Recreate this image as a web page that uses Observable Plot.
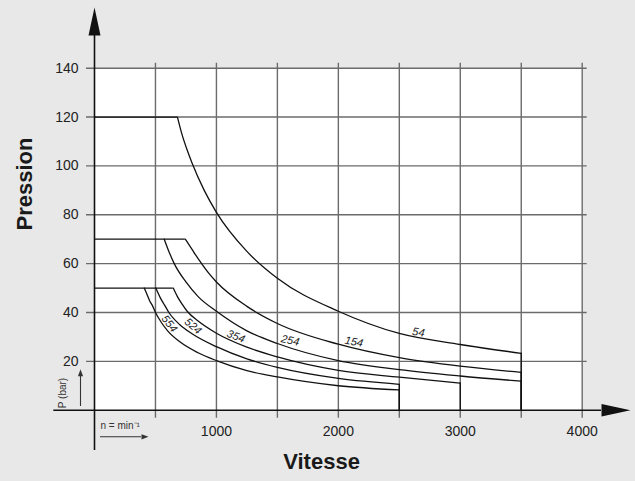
<!DOCTYPE html>
<html><head><meta charset="utf-8">
<script src="https://cdn.jsdelivr.net/npm/d3@7"></script>
<script src="https://cdn.jsdelivr.net/npm/@observablehq/plot@0.6"></script>
<style>html,body{margin:0;padding:0;background:#e8e8e8;} #chart svg{display:block;}</style>
</head><body><div id="chart"></div>
<script>
// ---- data ----
const seriesNames = ["54", "154", "254", "354", "524", "554"];
const curve54  = [[680,120],[720,112.5],[760,106.5],[800,101.2],[900,90],[1000,81],[1250,65],[1500,54],[2000,40.5],[2500,31.4],[3000,26.9],[3500,23.3]];
const curve154 = [[745,70],[800,65.8],[860,61.3],[930,56.5],[1000,52.5],[1250,42.5],[1500,35.5],[2000,27],[2500,21.5],[3000,18],[3500,15.5]];
const curve254 = [[572,70],[610,65],[654,60],[750,52.5],[850,46.5],[1000,40.5],[1250,32.5],[1500,27.3],[2000,20.3],[2500,16.6],[3000,14],[3500,11.9]];
const curve354 = [[646,50],[680,46.5],[720,43.3],[760,40.5],[850,36.5],[1000,31.5],[1250,25.8],[1500,21.8],[2000,16.3],[2500,13.5],[3000,11.1]];
const curve524 = [[503,50],[540,46],[575,43],[610,40],[700,35],[800,31.3],[1000,26],[1250,21],[1500,17.5],[2000,13],[2500,10.6]];
const curve554 = [[408,50],[430,47.5],[455,44.5],[473,43],[500,40],[550,35.8],[600,32.5],[700,28],[850,23.5],[1000,20.3],[1250,16.2],[1500,13.6],[2000,10],[2500,8.3]];
const plateauLevels = [120, 70, 50];
const plateauEnds = [680, 745, 646];
const labelN = [2657, 2127, 1605, 1160, 808, 615];
const labelP = [31.9, 28.0, 28.6, 30.2, 34.4, 35.4];
const labelAngle = [9, 11, 12, 22, 42, 52];
const yTicks = [20, 40, 60, 80, 100, 120, 140];
const xTicks = [1000, 2000, 3000, 4000];
const xGrid = [500, 1000, 1500, 2000, 2500, 3000, 3500, 4000];
const xMax = 4000, yMax = 140;

// ---- layout ----
const W = 635, H = 481, ML = 94, MR = 53.3, MT = 67.7, MB = 71.3;
const pxX = (W - ML - MR) / xMax, pxY = (H - MT - MB) / yMax;
const dX = px => px / pxX, dY = px => px / pxY;

const curveData = [curve54, curve154, curve254, curve354, curve524, curve554];
const curvePts = curveData.flatMap((c, i) => c.map(([n, p]) => ({name: seriesNames[i], n, p})));
const drops = curveData.map(c => ({n: c[c.length - 1][0], p: c[c.length - 1][1]}));
const plateaus = plateauLevels.map((p, i) => ({p, end: plateauEnds[i]}));
const labels = seriesNames.map((t, i) => ({t, n: labelN[i], p: labelP[i], a: labelAngle[i]}));

const poly = pts => ({draw(ctx) {
  ctx.moveTo(pts[0][0], pts[0][1]);
  for (let k = 1; k < pts.length; k++) ctx.lineTo(pts[k][0], pts[k][1]);
  ctx.closePath();
}});
const upHead = poly([[0,-28],[6,0],[-6,0]]);
const rightHead = poly([[29,0],[0,-6.3],[0,6.3]]);
const smallUp = poly([[0,-7],[2.6,0],[-2.6,0]]);
const smallRight = poly([[7,0],[0,-2.6],[0,2.6]]);

const gridColor = "#6b6b6b";
const chart = Plot.plot({
  width: W, height: H,
  marginLeft: ML, marginRight: MR, marginTop: MT, marginBottom: MB,
  style: {background: "#e8e8e8", fontFamily: "'Liberation Sans', Arial, Helvetica, sans-serif", fontSize: "14px", overflow: "visible"},
  x: {domain: [0, xMax], axis: null},
  y: {domain: [0, yMax], axis: null},
  marks: [
    Plot.frame({fill: "white", stroke: "none"}),
    Plot.ruleX(xGrid, {y1: -dY(8), y2: yMax + dY(5), stroke: gridColor, strokeWidth: 1.4}),
    Plot.ruleY(yTicks, {x1: -dX(8), x2: xMax + dX(5), stroke: gridColor, strokeWidth: 1.4}),
    // axes
    Plot.ruleX([0], {y1: -dY(40.3), y2: yMax + dY(32.7), stroke: "#111", strokeWidth: 1.6}),
    Plot.ruleY([0], {x1: -dX(40.7), x2: xMax + dX(19.3), stroke: "#111", strokeWidth: 1.6}),
    Plot.dot([0], {x: 0, y: yMax + dY(32.7), symbol: upHead, r: 5, fill: "#111", stroke: "none"}),
    Plot.dot([0], {x: xMax + dX(19.3), y: 0, symbol: rightHead, r: 5, fill: "#111", stroke: "none"}),
    // curves
    Plot.ruleY(plateaus, {y: "p", x1: 0, x2: "end", stroke: "#111", strokeWidth: 1.3}),
    Plot.line(curvePts, {x: "n", y: "p", z: "name", curve: "monotone-x", stroke: "#111", strokeWidth: 1.3}),
    Plot.ruleX(drops, {x: "n", y1: 0, y2: "p", stroke: "#111", strokeWidth: 1.3}),
    Plot.text(labels, {x: "n", y: "p", text: "t", rotate: "a", fontSize: 11, fontStyle: "italic", fill: "#222"}),
    // tick labels
    Plot.text(yTicks, {x: 0, y: d => d, text: d => String(d), dx: -16, textAnchor: "end", fontSize: 14, fill: "#222"}),
    Plot.text(xTicks, {x: d => d, y: 0, text: d => String(d), dy: 21.5, fontSize: 14, fill: "#222"}),
    // titles
    Plot.text(["Pression"], {frameAnchor: "left", dx: -70, dy: -8.7, rotate: -90, fontSize: 22, fontWeight: "bold", fill: "#1a1a1a"}),
    Plot.text(["Vitesse"], {frameAnchor: "bottom", dx: -16.8, dy: 58.3, fontSize: 22, fontWeight: "bold", fill: "#1a1a1a"}),
    // unit insets
    Plot.text(["P (bar)"], {x: -dX(31.5), y: dY(17.2), rotate: -90, fontSize: 10, fill: "#333"}),
    Plot.ruleX([0], {x: -dX(14), y1: dY(3.7), y2: dY(34), stroke: "#333", strokeWidth: 1.1}),
    Plot.dot([0], {x: -dX(14), y: dY(34), symbol: smallUp, r: 3, fill: "#333", stroke: "none"}),
    Plot.text(["n = min\u207B\u00B9"], {x: dX(6), y: -dY(15.6), textAnchor: "start", fontSize: 10, fill: "#333"}),
    Plot.ruleY([0], {y: -dY(26.6), x1: dX(6), x2: dX(47), stroke: "#333", strokeWidth: 1.1}),
    Plot.dot([0], {x: dX(47), y: -dY(26.6), symbol: smallRight, r: 3, fill: "#333", stroke: "none"})
  ]
});
document.getElementById("chart").appendChild(chart);
</script>
</body></html>
